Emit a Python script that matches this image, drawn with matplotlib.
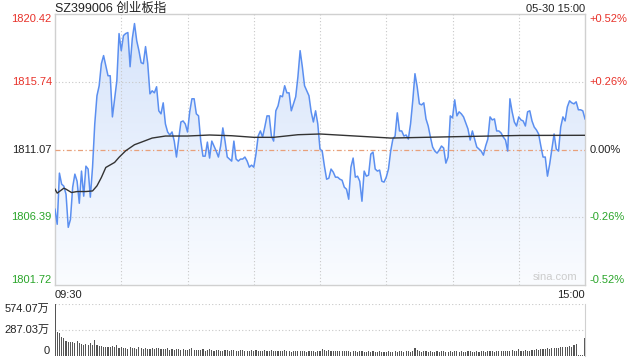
import matplotlib.pyplot as plt
import numpy as np
from matplotlib.colors import LinearSegmentedColormap

plt.rcParams['font.family'] = ['Liberation Sans', 'Noto Sans CJK SC', 'DejaVu Sans']

title = "SZ399006 创业板指"
stamp = "05-30 15:00"
prev_close = 1811.07
price_levels = [1820.42, 1815.74, 1811.07, 1806.39, 1801.72]
pct_labels = ["+0.52%", "+0.26%", "0.00%", "-0.26%", "-0.52%"]
vol_levels = [0, 287.03, 574.07]
vol_labels = ["0", "287.03万", "574.07万"]
time_labels = ["09:30", "15:00"]

# one value per minute, 09:30 .. 15:00 (241 points)
price = [
    1806.95, 1805.91, 1809.44, 1808.68, 1808.54, 1807.98, 1805.70, 1806.25, 1808.47, 1809.37,
    1808.88, 1807.36, 1809.58, 1807.85, 1809.92, 1809.72, 1807.78, 1809.85, 1812.83, 1814.78,
    1815.47, 1816.99, 1817.55, 1816.85, 1816.16, 1816.16, 1813.32, 1814.57, 1815.81, 1819.07,
    1817.89, 1818.93, 1819.07, 1819.14, 1816.78, 1818.72, 1819.76, 1818.58, 1817.89, 1817.06,
    1816.99,
    1818.17, 1816.99, 1814.91, 1815.12, 1814.98, 1815.40, 1813.74, 1813.53, 1814.29, 1812.83,
    1812.28, 1812.07, 1812.28, 1811.65, 1810.55, 1811.79, 1812.97, 1813.04, 1812.83, 1812.28,
    1813.67, 1814.57, 1814.57, 1813.53, 1813.39, 1811.65, 1810.61, 1810.61, 1811.58, 1810.48,
    1811.65, 1811.31, 1810.96, 1810.55, 1811.31, 1812.56, 1811.65, 1810.55,
    1810.41, 1810.27, 1811.65, 1810.41, 1810.27, 1810.41, 1810.41, 1810.55, 1810.27, 1809.85,
    1809.99, 1809.85, 1810.75, 1812.00, 1812.35, 1811.93, 1812.62, 1813.39, 1813.39, 1812.00,
    1811.65, 1813.74, 1814.08, 1814.78, 1814.71, 1815.47, 1814.98, 1814.98, 1813.74, 1814.22,
    1814.71, 1816.09, 1817.89, 1816.78, 1815.47, 1815.12, 1814.78, 1813.67, 1812.97, 1813.74,
    1812.83, 1811.10,
    1810.96, 1809.92, 1809.02, 1809.09, 1809.72, 1809.51, 1809.16, 1809.16, 1809.02, 1808.95,
    1808.47, 1808.33, 1807.64, 1809.85, 1810.48, 1809.16, 1809.23, 1808.88, 1807.50, 1809.58,
    1809.23, 1809.30, 1810.75, 1810.89, 1809.72, 1809.58, 1809.65, 1808.88, 1808.82, 1809.16,
    1809.72, 1810.96, 1811.79, 1812.00, 1813.60, 1812.35, 1812.35, 1812.00, 1812.07, 1811.79,
    1812.83, 1814.43, 1816.30, 1815.40, 1814.22, 1814.15, 1814.29, 1813.18, 1812.69, 1811.93,
    1811.24, 1810.96, 1810.82, 1811.03, 1811.31, 1811.17, 1810.13, 1810.55, 1813.39, 1813.25,
    1814.50, 1813.39, 1813.67, 1813.53, 1813.32, 1812.90, 1812.49, 1811.72, 1812.35, 1811.79,
    1811.24, 1811.10, 1810.96, 1810.68, 1811.31, 1811.79, 1813.32, 1813.11, 1813.18, 1812.35,
    1812.35, 1812.21,
    1811.93, 1811.72, 1810.96, 1814.57, 1813.67, 1812.97, 1812.69, 1813.32, 1813.11, 1813.04,
    1812.69, 1813.67, 1813.74, 1813.04, 1812.62, 1812.42, 1812.14, 1811.31, 1810.55, 1810.55,
    1809.23, 1810.06, 1811.10, 1812.14, 1811.10, 1810.96, 1812.62, 1813.32, 1813.04, 1814.01,
    1814.43, 1814.29, 1814.22, 1814.36, 1813.81, 1813.81, 1813.74, 1813.18,
]

avg_minute = [0, 1, 4, 5, 7.5, 10, 14, 17, 19, 21, 23, 27, 29, 32, 36, 39, 44, 50, 60, 70,
              80, 90, 99, 110, 120, 152, 180, 211, 240]
avg_price = [1808.33, 1808.06, 1808.40, 1808.33, 1808.10, 1808.17, 1808.17, 1808.21, 1808.56,
             1809.14, 1809.83, 1810.18, 1810.53, 1810.98, 1811.40, 1811.57, 1811.86, 1812.00,
             1812.00, 1812.07, 1812.02, 1811.91, 1811.91, 1812.09, 1812.14, 1811.86, 1811.95,
             1812.04, 1812.05]

# volume, 万
volume = [
    574,
    265, 250, 215, 195, 170, 160, 150, 158, 145, 162,
    140, 128, 120, 132, 118, 140, 122, 175, 118, 110,
    105, 104, 100, 96, 102, 106, 94, 118, 90, 100,
    86, 92, 80, 96, 90, 84, 78, 96, 84, 80,
    88, 76, 82, 92, 74, 86, 90, 78, 72, 80,
    84, 70, 76, 66, 72, 80, 68, 74, 66, 70,
    78, 86, 64, 70, 62, 68, 74, 60, 66, 72,
    64, 58, 66, 70, 60, 56, 62, 68, 58, 64,
    70, 60, 56, 62, 66, 58, 54, 60, 64, 56,
    62, 58, 54, 60, 66, 52, 58, 62, 56, 60,
    54, 50, 58, 62, 56, 52, 48, 56, 60, 54,
    50, 56, 52, 48, 54, 58, 50, 46, 52, 56,
    72, 66, 58, 62, 54, 56, 60, 52, 58, 54,
    50, 56, 52, 48, 54, 50, 46, 52, 56, 48,
    44, 50, 46, 52, 48, 44, 50, 46, 42, 48,
    52, 46, 44, 50, 48, 56, 52, 46, 50, 54,
    48, 60, 90, 70, 52, 48, 54, 50, 46, 52,
    48, 44, 50, 46, 52, 56, 48, 44, 50, 46,
    54, 50, 46, 52, 48, 44, 50, 54, 48, 46,
    52, 48, 54, 50, 46, 52, 56, 50, 48, 54,
    50, 56, 60, 54, 52, 58, 62, 56, 60, 72,
    58, 54, 62, 60, 58, 64, 66, 72, 70, 78,
    82, 76, 84, 80, 88, 86, 92, 90, 96, 100,
    94, 104, 110, 98, 120, 130, 12, 8, 6, 202,
]

minutes = np.arange(len(price))
ylo, yhi = price_levels[-1], price_levels[0]

fig = plt.figure(figsize=(6.4, 3.6), dpi=100)
ax = fig.add_axes([55/640, 1-285/360, 530/640, 271/360])
axv = fig.add_axes([55/640, 4/360, 530/640, 52/360])

# gradient fill under the price line
cmap = LinearSegmentedColormap.from_list('fill', ['#fafcff', '#d5e3fa'])
grad = np.linspace(0, 1, 256).reshape(-1, 1)
im = ax.imshow(grad, extent=[0, 240, ylo, yhi], aspect='auto', cmap=cmap,
               origin='lower', zorder=1, interpolation='bilinear')
poly = ax.fill_between(minutes, price, ylo, color='none', lw=0)
im.set_clip_path(poly.get_paths()[0], transform=ax.transData)

ax.plot(minutes, price, color='#5b8ff0', lw=1.1, zorder=4)
ax.plot(avg_minute, avg_price, color='#333333', lw=1.0, zorder=5)

for lv in price_levels[1:-1]:
    if lv == prev_close:
        ax.axhline(lv, color='#e8a07a', lw=0.9, ls=(0, (4, 2, 1, 2)), zorder=3)
    else:
        ax.axhline(lv, color='#c8c8c8', lw=0.8, ls=(0, (1, 2)), zorder=3)
for m in range(30, 240, 30):
    ax.axvline(m, color='#c8c8c8', lw=0.8, ls=(0, (1, 2)), zorder=3)

ax.set_xlim(0, 240)
ax.set_ylim(ylo, yhi)
ax.set_xticks([])
ax.set_yticks([])
for s in ax.spines.values():
    s.set_color('#d0d0d0')
    s.set_linewidth(1)

tr = ax.get_yaxis_transform()
colors = ['#e8322a', '#e8322a', '#222222', '#2aa52a', '#2aa52a']
vas = ['top', 'center', 'center', 'center', 'bottom']
for lv, pl, c, va in zip(price_levels, pct_labels, colors, vas):
    ax.text(-0.006, lv, f"{lv:.2f}", transform=tr, ha='right', va=va, color=c, fontsize=8)
    ax.text(1.009, lv, pl, transform=tr, ha='left', va=va, color=c, fontsize=8)

ax.text(0, 1.008, title, transform=ax.transAxes, ha='left', va='baseline', fontsize=9, color='#222222')
ax.text(1, 1.008, stamp, transform=ax.transAxes, ha='right', va='baseline', fontsize=8, color='#222222')
ax.text(0.985, 0.012, "sina.com", transform=ax.transAxes, ha='right', va='bottom',
        fontsize=8, color='#cccccc')
ax.text(0, -0.018, time_labels[0], transform=ax.transAxes, ha='left', va='top', fontsize=8, color='#222222')
ax.text(1, -0.018, time_labels[1], transform=ax.transAxes, ha='right', va='top', fontsize=8, color='#222222')

# volume panel
axv.bar(minutes, volume, width=0.5, color='#555555', lw=0)
axv.set_xlim(0, 240)
axv.set_ylim(0, vol_levels[-1])
axv.set_xticks([])
axv.set_yticks([])
for k in ('left', 'bottom', 'top'):
    axv.spines[k].set_visible(False)
axv.spines['right'].set_color('#d0d0d0')
for lv in vol_levels[1:]:
    axv.axhline(lv, color='#c8c8c8', lw=0.8, ls=(0, (1, 2)), zorder=0)
trv = axv.get_yaxis_transform()
for lv, lab, va in zip(vol_levels, vol_labels, ['bottom', 'center', 'top']):
    axv.text(-0.01, lv, lab, transform=trv, ha='right', va=va, fontsize=8, color='#222222')

plt.savefig('out.png', dpi=100)
